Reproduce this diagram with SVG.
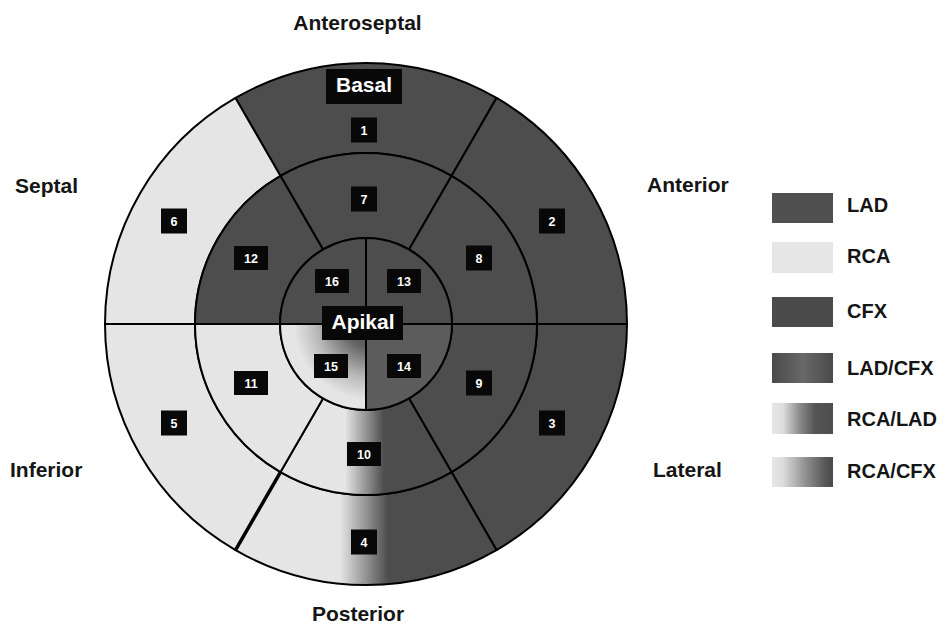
<svg xmlns="http://www.w3.org/2000/svg" width="945" height="631" viewBox="0 0 945 631">
<style>
.dark{fill:#4d4d4d}
.light{fill:#e5e5e5}
.seg{stroke:#000;stroke-width:2;stroke-linejoin:round}
.lbl{font-family:"Liberation Sans",Arial,sans-serif;font-weight:bold;font-size:21px;fill:#151515}
.leg{font-family:"Liberation Sans",Arial,sans-serif;font-weight:bold;font-size:20px;fill:#151515}
.nb{fill:#080808}
.nt{font-family:"Liberation Sans",Arial,sans-serif;font-weight:bold;font-size:12.5px;fill:#fff;text-anchor:middle}
.tt{font-family:"Liberation Sans",Arial,sans-serif;font-weight:bold;font-size:21px;fill:#fff;text-anchor:middle}
</style>
<defs>
<linearGradient id="g4" gradientUnits="userSpaceOnUse" x1="340" y1="0" x2="388" y2="0">
<stop offset="0" stop-color="#e5e5e5"/><stop offset="0.5" stop-color="#9a9a9a"/><stop offset="1" stop-color="#4d4d4d"/>
</linearGradient>
<linearGradient id="g10" gradientUnits="userSpaceOnUse" x1="345" y1="0" x2="384" y2="0">
<stop offset="0" stop-color="#e5e5e5"/><stop offset="0.5" stop-color="#9a9a9a"/><stop offset="1" stop-color="#4d4d4d"/>
</linearGradient>
<radialGradient id="g15" gradientUnits="userSpaceOnUse" cx="370" cy="324" r="76">
<stop offset="0" stop-color="#555"/><stop offset="0.3" stop-color="#606060"/><stop offset="0.7" stop-color="#b8b8b8"/><stop offset="1" stop-color="#e5e5e5"/>
</radialGradient>
<linearGradient id="gLC" x1="0" y1="0" x2="1" y2="0">
<stop offset="0" stop-color="#4a4a4a"/><stop offset="0.3" stop-color="#5c5c5c"/><stop offset="0.5" stop-color="#686868"/><stop offset="0.7" stop-color="#5c5c5c"/><stop offset="1" stop-color="#4a4a4a"/>
</linearGradient>
<linearGradient id="gRL" x1="0" y1="0" x2="1" y2="0">
<stop offset="0" stop-color="#e6e6e6"/><stop offset="0.18" stop-color="#dedede"/><stop offset="0.45" stop-color="#8c8c8c"/><stop offset="0.7" stop-color="#555"/><stop offset="1" stop-color="#4e4e4e"/>
</linearGradient>
<linearGradient id="gRC" x1="0" y1="0" x2="1" y2="0">
<stop offset="0" stop-color="#e6e6e6"/><stop offset="0.18" stop-color="#dcdcdc"/><stop offset="0.5" stop-color="#9a9a9a"/><stop offset="0.85" stop-color="#5a5a5a"/><stop offset="1" stop-color="#4a4a4a"/>
</linearGradient>
</defs>
<rect width="945" height="631" fill="#fff"/>

<g id="seg1"><path class="seg dark" d="M496.5,97.97 A261,261 0 0 0 235.5,97.97 L280.5,175.91 A171,171 0 0 1 451.5,175.91 Z"/></g>
<g id="seg2"><path class="seg dark" d="M627,324 A261,261 0 0 0 496.5,97.97 L451.5,175.91 A171,171 0 0 1 537,324 Z"/></g>
<g id="seg3"><path class="seg dark" d="M496.5,550.03 A261,261 0 0 0 627,324 L537,324 A171,171 0 0 1 451.5,472.09 Z"/></g>
<g id="seg4"><path class="seg" fill="url(#g4)" d="M235.5,550.03 A261,261 0 0 0 496.5,550.03 L451.5,472.09 A171,171 0 0 1 280.5,472.09 Z"/></g>
<g id="seg5"><path class="seg light" d="M105,324 A261,261 0 0 0 235.5,550.03 L280.5,472.09 A171,171 0 0 1 195,324 Z"/></g>
<g id="seg6"><path class="seg light" d="M235.5,97.97 A261,261 0 0 0 105,324 L195,324 A171,171 0 0 1 280.5,175.91 Z"/></g>
<g id="seg7"><path class="seg dark" d="M451.5,175.91 A171,171 0 0 0 280.5,175.91 L323,249.52 A86,86 0 0 1 409,249.52 Z"/></g>
<g id="seg8"><path class="seg dark" d="M537,324 A171,171 0 0 0 451.5,175.91 L409,249.52 A86,86 0 0 1 452,324 Z"/></g>
<g id="seg9"><path class="seg dark" d="M451.5,472.09 A171,171 0 0 0 537,324 L452,324 A86,86 0 0 1 409,398.48 Z"/></g>
<g id="seg10"><path class="seg" fill="url(#g10)" d="M280.5,472.09 A171,171 0 0 0 451.5,472.09 L409,398.48 A86,86 0 0 1 323,398.48 Z"/></g>
<g id="seg11"><path class="seg light" d="M195,324 A171,171 0 0 0 280.5,472.09 L323,398.48 A86,86 0 0 1 280,324 Z"/></g>
<g id="seg12"><path class="seg dark" d="M280.5,175.91 A171,171 0 0 0 195,324 L280,324 A86,86 0 0 1 323,249.52 Z"/></g>
<g id="seg13"><path class="seg dark" d="M366,324 L452,324 A86,86 0 0 0 366,238 Z"/></g>
<g id="seg16"><path class="seg dark" d="M366,324 L366,238 A86,86 0 0 0 280,324 Z"/></g>
<g id="seg15"><path class="seg" fill="url(#g15)" d="M366,324 L280,324 A86,86 0 0 0 366,410 Z"/></g>
<g id="seg14"><path class="seg" fill="#5c5c5c" d="M366,324 L366,410 A86,86 0 0 0 452,324 Z"/></g>

<g id="connectors" fill="none" stroke="#000">
<line x1="235.5" y1="550.03" x2="280.5" y2="472.09" stroke-width="3.5"/>
</g>

<g id="basal"><rect class="nb" x="326" y="69" width="76" height="35"/><text class="tt" x="364" y="92">Basal</text></g>
<g id="apikal"><rect class="nb" x="322" y="306" width="81" height="34"/><text class="tt" x="363" y="329">Apikal</text></g>

<g id="n1"><rect class="nb" x="351" y="117.5" width="26" height="25"/><text class="nt" x="364" y="134.5">1</text></g>
<g id="n7"><rect class="nb" x="351" y="186.5" width="26" height="25"/><text class="nt" x="364" y="203.5">7</text></g>
<g id="n6"><rect class="nb" x="161" y="208.5" width="26" height="25"/><text class="nt" x="174" y="225.5">6</text></g>
<g id="n2"><rect class="nb" x="539" y="208.5" width="26" height="25"/><text class="nt" x="552" y="225.5">2</text></g>
<g id="n12"><rect class="nb" x="234" y="246" width="34" height="24"/><text class="nt" x="251" y="262.5">12</text></g>
<g id="n8"><rect class="nb" x="466" y="245.5" width="26" height="25"/><text class="nt" x="479" y="262.5">8</text></g>
<g id="n16"><rect class="nb" x="315" y="269" width="34" height="24"/><text class="nt" x="332" y="285.5">16</text></g>
<g id="n13"><rect class="nb" x="387" y="269" width="34" height="24"/><text class="nt" x="404" y="285.5">13</text></g>
<g id="n15"><rect class="nb" x="314" y="354" width="34" height="24"/><text class="nt" x="331" y="370.5">15</text></g>
<g id="n14"><rect class="nb" x="387" y="354" width="34" height="24"/><text class="nt" x="404" y="370.5">14</text></g>
<g id="n11"><rect class="nb" x="234" y="371" width="34" height="24"/><text class="nt" x="251" y="387.5">11</text></g>
<g id="n9"><rect class="nb" x="466" y="370.5" width="26" height="25"/><text class="nt" x="479" y="387.5">9</text></g>
<g id="n5"><rect class="nb" x="161" y="410.5" width="26" height="25"/><text class="nt" x="174" y="427.5">5</text></g>
<g id="n3"><rect class="nb" x="539" y="410.5" width="26" height="25"/><text class="nt" x="552" y="427.5">3</text></g>
<g id="n10"><rect class="nb" x="347" y="442" width="34" height="24"/><text class="nt" x="364" y="458.5">10</text></g>
<g id="n4"><rect class="nb" x="351" y="529.5" width="26" height="25"/><text class="nt" x="364" y="546.5">4</text></g>

<g id="labels">
<text class="lbl" x="357.5" y="30" text-anchor="middle">Anteroseptal</text>
<text class="lbl" x="15" y="193">Septal</text>
<text class="lbl" x="647" y="192">Anterior</text>
<text class="lbl" x="10" y="477">Inferior</text>
<text class="lbl" x="653" y="477">Lateral</text>
<text class="lbl" x="358" y="621" text-anchor="middle">Posterior</text>
</g>

<g id="legend">
<g id="leg-lad"><rect x="772" y="193" width="61" height="30" fill="#505050"/><text class="leg" x="847" y="212">LAD</text></g>
<g id="leg-rca"><rect x="772" y="242" width="61" height="31" fill="#e6e6e6"/><text class="leg" x="847" y="263">RCA</text></g>
<g id="leg-cfx"><rect x="772" y="297" width="61" height="30" fill="#4b4b4b"/><text class="leg" x="847" y="318">CFX</text></g>
<g id="leg-ladcfx"><rect x="772" y="353" width="61" height="30" fill="url(#gLC)"/><text class="leg" x="847" y="375">LAD/CFX</text></g>
<g id="leg-rcalad"><rect x="772" y="403" width="61" height="31" fill="url(#gRL)"/><text class="leg" x="847" y="426">RCA/LAD</text></g>
<g id="leg-rcacfx"><rect x="772" y="457" width="61" height="30" fill="url(#gRC)"/><text class="leg" x="847" y="478">RCA/CFX</text></g>
</g>
</svg>
